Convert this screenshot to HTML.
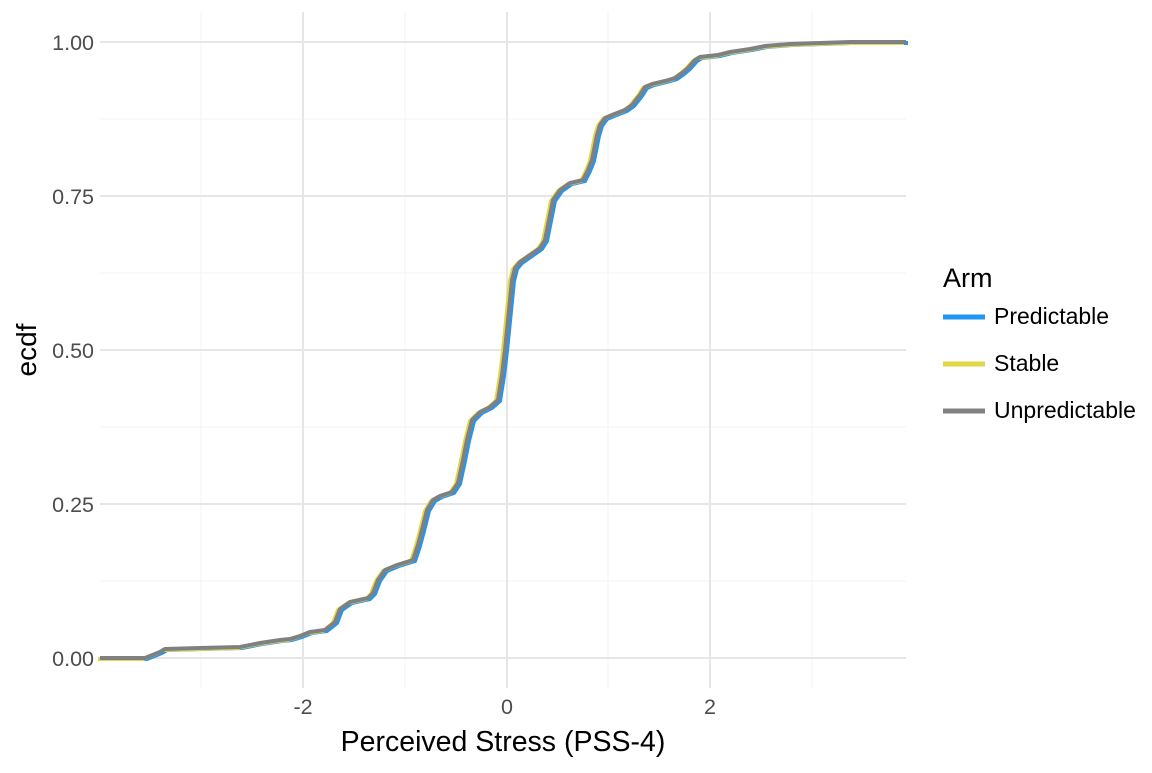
<!DOCTYPE html>
<html><head><style>body{margin:0;background:#fff}</style></head><body>
<svg width="1152" height="768" xmlns="http://www.w3.org/2000/svg" font-family="Liberation Sans, Arial, sans-serif">
<rect width="1152" height="768" fill="#fff"/>
<g stroke="#f3f3f3" stroke-width="1">
<line x1="100" x2="906" y1="119" y2="119"/><line x1="100" x2="906" y1="273" y2="273"/><line x1="100" x2="906" y1="427" y2="427"/><line x1="100" x2="906" y1="581" y2="581"/>
<line y1="12" y2="688" x1="201" x2="201"/><line y1="12" y2="688" x1="405" x2="405"/><line y1="12" y2="688" x1="608" x2="608"/><line y1="12" y2="688" x1="812" x2="812"/>
</g>
<g stroke="#e6e6e6" stroke-width="2">
<line x1="100" x2="906" y1="42" y2="42"/><line x1="100" x2="906" y1="196" y2="196"/><line x1="100" x2="906" y1="350" y2="350"/><line x1="100" x2="906" y1="504" y2="504"/><line x1="100" x2="906" y1="658" y2="658"/>
<line y1="12" y2="688" x1="303" x2="303"/><line y1="12" y2="688" x1="507" x2="507"/><line y1="12" y2="688" x1="710" x2="710"/>
</g>
<defs><polyline id="c" fill="none" stroke-width="4" points="100,658 145,658 160,652 165,649 200,648 240,647 260,643 280,640 290,639 300,636 310,632 325,630 335,622 340,609 350,602 368,598 373,593 378,580 385,570 397,565 413,560 418,545 422,530 427,510 433,500 440,496 452,492 458,483 463,460 467,440 472,420 480,412 490,407 498,400 502,375 505,350 508,320 510,300 512,280 515,268 520,262 530,255 540,248 545,240 549,220 553,200 560,190 570,183 583,180 588,170 592,160 595,145 597,135 600,125 605,118 612,115 625,110 632,105 640,95 645,87 652,84 665,81 675,78 682,73 688,68 695,60 700,57 718,55 730,52 750,49 765,46 790,44 820,43 850,42 906,42"/></defs>
<use href="#c" stroke="#2196f3" transform="translate(2,1)"/>
<use href="#c" stroke="#e0d84a" transform="translate(-2,1)"/>
<use href="#c" stroke="#808080"/>
<g font-size="21.5" fill="#4d4d4d" text-anchor="end">
<text x="94" y="50">1.00</text><text x="94" y="204">0.75</text><text x="94" y="358">0.50</text><text x="94" y="512">0.25</text><text x="94" y="666">0.00</text>
</g>
<g font-size="21.5" fill="#4d4d4d" text-anchor="middle">
<text x="303" y="714">-2</text><text x="507" y="714">0</text><text x="710" y="714">2</text>
</g>
<text x="503" y="751" font-size="28.5" text-anchor="middle" fill="#000">Perceived Stress (PSS-4)</text>
<text transform="translate(36,350) rotate(-90)" font-size="28" text-anchor="middle" fill="#000">ecdf</text>
<text x="943" y="287" font-size="27" fill="#000">Arm</text>
<g stroke-width="5"><line x1="943" x2="985" y1="317" y2="317" stroke="#2196f3"/><line x1="943" x2="985" y1="364" y2="364" stroke="#e0d84a"/><line x1="943" x2="985" y1="411" y2="411" stroke="#808080"/></g>
<g font-size="23" fill="#000"><text x="994" y="324">Predictable</text><text x="994" y="371">Stable</text><text x="994" y="418">Unpredictable</text></g>
</svg>
</body></html>
